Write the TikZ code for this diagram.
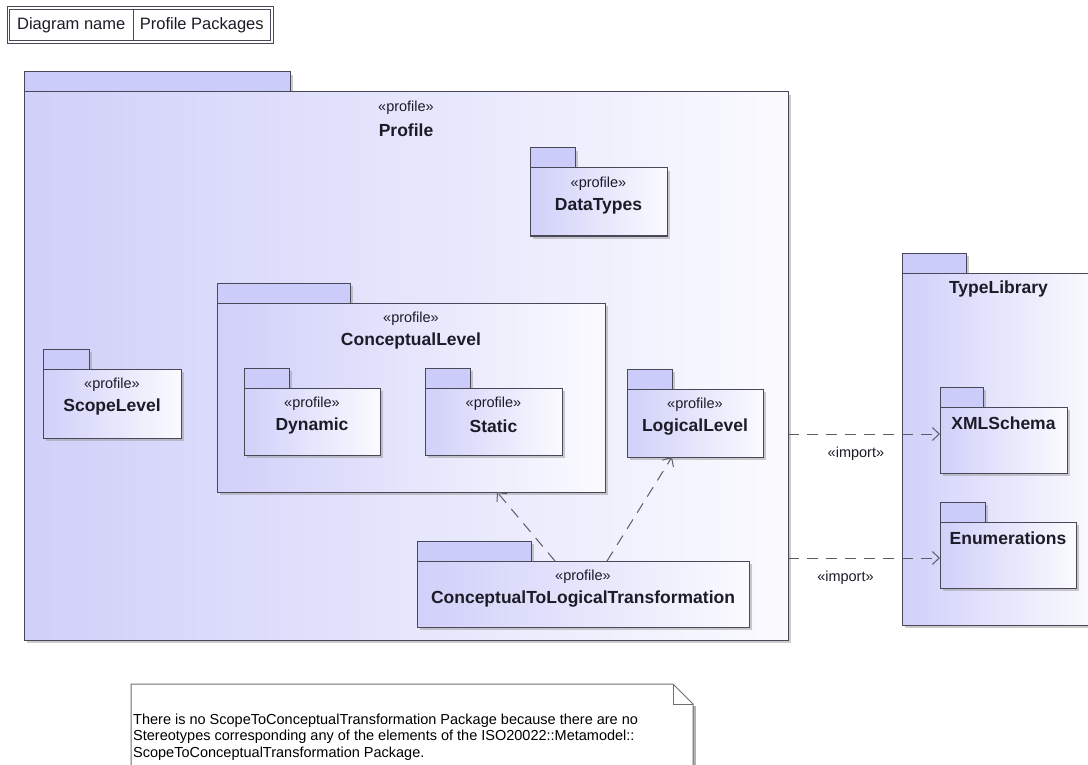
\documentclass[tikz,border=0pt]{standalone}
\usepackage{fontspec}
\setmainfont{Liberation Sans}
\usetikzlibrary{positioning,arrows.meta,shadows}
\definecolor{pkgline}{RGB}{72,72,88}
\definecolor{tabfill}{RGB}{204,204,250}
\definecolor{pkgfill}{RGB}{208,208,250}
\definecolor{pkgtext}{RGB}{28,28,40}
\definecolor{depline}{RGB}{92,92,100}
\definecolor{noteline}{RGB}{110,110,110}
\tikzset{
  pkgtab/.style={draw=pkgline, line width=1pt, fill=tabfill, inner sep=0pt, outer sep=0pt,
    anchor=south west, minimum height=20,
    drop shadow={shadow xshift=3pt, shadow yshift=-3pt, fill=black!40, opacity=.5}},
  pkgbody/.style={draw=pkgline, line width=1pt, inner sep=0pt, outer sep=0pt,
    left color=pkgfill, right color=pkgfill!10!white,
    drop shadow={shadow xshift=3pt, shadow yshift=-3pt, fill=black!40, opacity=.5}},
  stereo/.style={font=\fontsize{14.5}{16}\selectfont, text=pkgtext, inner sep=0pt},
  pkgname/.style={font=\bfseries\fontsize{17.5}{20}\selectfont, text=pkgtext, inner sep=0pt},
  hdrcell/.style={draw=pkgline, line width=1pt, inner sep=0pt, outer sep=0pt,
    minimum height=31.5, font=\fontsize{16.5}{18}\selectfont, text=pkgtext},
  dep/.style={draw=depline, line width=1pt, dash pattern=on 11pt off 8pt,
    -{Straight Barb[length=7pt,width=13pt]}},
  implabel/.style={font=\fontsize{14.5}{16}\selectfont, text=pkgtext, inner sep=0pt},
  notetext/.style={font=\fontsize{14.5}{16.5}\selectfont, text=black, inner sep=0pt, align=left}
}
\begin{document}
\begin{tikzpicture}[x=1pt,y=-1pt]
\path[use as bounding box, fill=white] (0,0) rectangle (1088,765);
\clip (0,0) rectangle (1088,765);

% diagram frame label
\node[hdrcell, minimum width=123.5] (hdrkey) at (71.25,25.25) {Diagram name};
\node[hdrcell, minimum width=137.5, right=0pt of hdrkey] (hdrval) {Profile Packages};
\draw[pkgline, line width=1pt] ([shift={(-2.5pt,2.5pt)}]hdrkey.north west) rectangle ([shift={(2.5pt,-2.5pt)}]hdrval.south east);

% profile packages: name/label/x/y/w/h/tab width
\foreach \n/\lbl/\x/\y/\bw/\bh/\tw in {profile/Profile/406/366/764/548/266,
  datatypes/DataTypes/598.5/202/137/68/45,
  scopelevel/ScopeLevel/112/403.5/138/69/46,
  conceptual/ConceptualLevel/411/397.5/388/189/133,
  dynamic/Dynamic/312/421.5/136/67/45,
  static/Static/493.5/421.5/137/67/45,
  logical/LogicalLevel/695/423/136/68/45,
  c2l/ConceptualToLogicalTransformation/583/594/332/66/114}{
  \node[pkgtab, minimum width=\tw] (\n-tab) at (\x-\bw/2,\y-\bh/2) {};
  \node[pkgbody, minimum width=\bw, minimum height=\bh] (\n) at (\x,\y) {};
  \node[stereo] (\n-st) at ([yshift=-16pt]\n.north) {«profile»};
  \node[pkgname] (\n-name) at ([yshift=-38pt]\n.north) {\lbl};
}

% type library
\foreach \n/\lbl/\x/\y/\bw/\bh/\tw in {typelib/TypeLibrary/998.5/449/193/352/64,
  xmlschema/XMLSchema/1003.5/440/127/66/43,
  enums/Enumerations/1008/555/136/66/45}{
  \node[pkgtab, minimum width=\tw] (\n-tab) at (\x-\bw/2,\y-\bh/2) {};
  \node[pkgbody, minimum width=\bw, minimum height=\bh] (\n) at (\x,\y) {};
  \node[pkgname] (\n-name) at ([yshift=-16pt]\n.north) {\lbl};
}

% dependencies
\draw[dep] ([xshift=-28pt]c2l.north) -- ([xshift=86pt]conceptual.south);
\draw[dep] ([xshift=24pt]c2l.north) -- ([xshift=-23pt]logical.south);
\draw[dep] ([yshift=6pt]profile.east |- xmlschema.west) -- ([yshift=6pt]xmlschema.west)
  node[implabel, pos=.447, below=12pt] (imp1) {«import»};
\draw[dep] ([yshift=-3pt]profile.east |- enums.west) -- ([yshift=-3pt]enums.west)
  node[implabel, pos=.378, below=12pt] (imp2) {«import»};

% note
\draw[black!30, line width=2.5pt] (694.5,706) -- (694.5,790);
\draw[noteline, line width=1pt, fill=white] (131,790) -- (131,684) -- (673,684) -- (693,704) -- (693,790);
\draw[noteline, line width=1pt] (673,684) -- (673,704) -- (693,704);
\node[notetext, anchor=north west] (note) at (133,713.5) {There is no ScopeToConceptualTransformation Package because there are no\\
Stereotypes corresponding any of the elements of the ISO20022::Metamodel::\\
ScopeToConceptualTransformation Package.};
\end{tikzpicture}
\end{document}
